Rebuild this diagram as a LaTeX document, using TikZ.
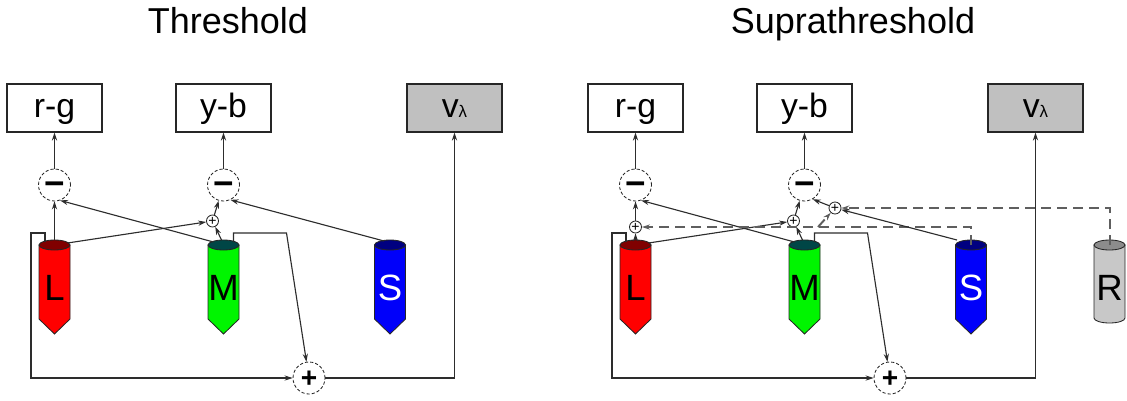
\documentclass[tikz,border=0pt]{standalone}
\usepackage{fontspec}
\setmainfont{Liberation Sans}
\usetikzlibrary{positioning, arrows.meta, calc}

\definecolor{wirecol}{RGB}{45,45,45}
\definecolor{rodcol}{RGB}{95,95,95}
\definecolor{lumbox}{RGB}{192,192,192}
\definecolor{lbody}{RGB}{255,0,0}
\definecolor{ltop}{RGB}{128,0,0}
\definecolor{mbody}{RGB}{0,245,0}
\definecolor{mtop}{RGB}{0,70,70}
\definecolor{sbody}{RGB}{0,0,250}
\definecolor{stop}{RGB}{0,0,128}
\definecolor{rbody}{RGB}{200,200,200}
\definecolor{rtop}{RGB}{140,140,140}

\begin{document}
\begin{tikzpicture}[
  x=0.25mm, y=-0.25mm,
  >={Stealth[length=2mm, width=1.3mm]},
  wire/.style={draw=wirecol, line width=0.8pt},
  rodwire/.style={draw=rodcol, line width=1.4pt, dash pattern=on 2.5mm off 1.5mm},
  chan/.style={draw=black!85, line width=0.8pt, minimum width=23.75mm,
    minimum height=12mm, inner sep=0pt, text height=4.5mm, text depth=0pt,
    font=\fontsize{24}{24}\selectfont},
  opnode/.style={circle, draw=black!85, line width=0.6pt,
    dash pattern=on 0.8mm off 0.5mm, minimum size=8mm, inner sep=0pt,
    text height=15.5pt, text depth=0pt,
    font=\fontsize{25}{25}\selectfont\bfseries},
  addnode/.style={opnode, text height=13pt,
    font=\fontsize{20}{20}\selectfont\bfseries},
  sumdot/.style={circle, draw=black!85, fill=white, line width=0.6pt,
    minimum size=3mm, inner sep=0pt, font=\fontsize{10}{10}\selectfont},
  conelabel/.style={anchor=base, font=\fontsize{26}{26}\selectfont},
  title/.style={anchor=base, font=\fontsize{25.6}{26}\selectfont},
]
\useasboundingbox (0,0) rectangle (1127,400);

% --- Titles ---
\node[title] (thr) at (228,33) {Threshold};
\node[title] (supra) at (853,33) {Suprathreshold};

% --- Parts shared by both panels ---
\foreach \p/\dx in {t/0, s/581} {
  % output channels
  \node[chan] (rg-\p) at (\dx+54.5,108) {r-g};
  \node[chan] (yb-\p) at (\dx+223.5,108) {y-b};
  \node[chan, fill=lumbox] (vl-\p) at (\dx+454.5,108)
    {v{\fontsize{12}{12}\selectfont λ}};

  % opponent and summing stages
  \node[opnode] (mrg-\p) at (\dx+54.5,185) {−};
  \node[opnode] (myb-\p) at (\dx+223.5,185) {−};
  \node[addnode] (sum-\p) at (\dx+309,378) {+};
  \node[sumdot] (pyb-\p) at (\dx+212.5,221) {+};

  % cones
  \foreach \c/\cx/\body/\cap/\ink in {L/54.5/lbody/ltop/black,
      M/223.5/mbody/mtop/black, S/390/sbody/stop/white} {
    \filldraw[fill=\body, draw=black!85, line width=0.6pt]
      (\dx+\cx-15.5,245) -- (\dx+\cx-15.5,319) -- (\dx+\cx,334)
      -- (\dx+\cx+15.5,319) -- (\dx+\cx+15.5,245) -- cycle;
    \filldraw[fill=\cap, draw=black!85, line width=0.6pt]
      (\dx+\cx,245) ellipse [x radius=15.5, y radius=5];
    \coordinate (\c-\p) at (\dx+\cx,245);
    \node[conelabel, text=\ink] (\c lab-\p) at (\dx+\cx,300) {\c};
  }

  % wiring
  \draw[wire, ->] (mrg-\p) -- (rg-\p);
  \draw[wire, ->] (myb-\p) -- (yb-\p);
  \draw[wire, ->] (pyb-\p) -- (myb-\p);
  \draw[wire, ->] ($(L-\p)+(13,-2)$) -- (pyb-\p);
  \draw[wire, ->] ($(M-\p)+(-2,-5)$) -- (pyb-\p);
  \draw[wire, ->] ($(M-\p)+(-10,-3)$) -- (mrg-\p.-70);
  \draw[wire, ->] ($(L-\p)+(-9.5,-3)$) |- ($(L-\p)+(-23.5,-12)$) |- (sum-\p);
  \draw[wire, ->] ($(M-\p)+(10,-3)$) |- ($(M-\p)+(63,-12)$) -- (sum-\p);
  \draw[wire, ->] (sum-\p) -| (vl-\p);
}

% --- Threshold only ---
\draw[wire, ->] ($(L-t)+(0,-5)$) -- (mrg-t);
\draw[wire, ->] ($(S-t)+(-6,-4)$) -- (myb-t.-65);

% --- Suprathreshold: rod input ---
\filldraw[fill=rbody, draw=black!85, line width=0.6pt]
  (1094,245) -- (1094,318) arc[start angle=180, end angle=0,
  x radius=15.5, y radius=5] -- (1125,245) -- cycle;
\filldraw[fill=rtop, draw=black!85, line width=0.6pt]
  (1109.5,245) ellipse [x radius=15.5, y radius=5];
\coordinate (R) at (1109.5,245);
\node[conelabel] (Rlab) at (1109.5,300) {R};

\node[sumdot] (pl-s) at (635.5,227) {+};
\node[sumdot] (ps-s) at (835,208) {+};
\coordinate (fork) at (818,227);

\draw[rodwire, ->] (R) |- (ps-s);
\draw[rodwire, ->] (S-s) |- (pl-s);
\draw[rodwire, ->] (fork) -- (ps-s);
\draw[wire, ->] ($(L-s)+(0,-5)$) -- (pl-s);
\draw[wire, ->] (pl-s) -- (mrg-s);
\draw[wire, ->] ($(S-s)+(-14,-5)$) -- (ps-s);
\draw[wire, ->] (ps-s) -- (myb-s.-60);

\end{tikzpicture}
\end{document}
